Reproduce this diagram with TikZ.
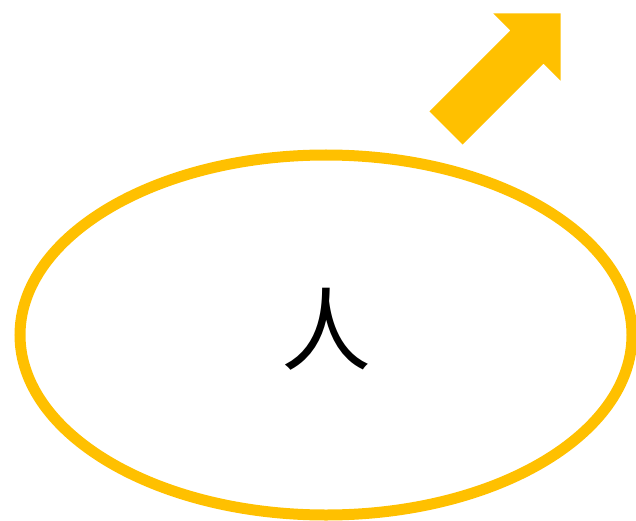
\documentclass[tikz,border=0pt]{standalone}
\usepackage{fontspec}
\newfontfamily\cjk{Noto Sans CJK SC}
\usetikzlibrary{positioning, calc, shapes}
\definecolor{amber}{HTML}{FFC000}
\tikzset{
  person/.style = {draw = amber, line width = 11pt, ellipse, inner sep = 0pt,
    minimum width = 612pt, minimum height = 360pt, text depth = 19pt,
    font = \cjk\fontsize{90}{90}\selectfont},
  bigarrow/.style = {fill = amber, draw = none}
}
\def \shaft {23.5}   % half width of the arrow shaft
\def \head {47.5}    % half width of the arrow head
\def \len {162}      % length, tail to tip

\begin{document}
\begin{tikzpicture}[x = 1pt, y = 1pt]
\useasboundingbox (0,0) rectangle (636,520);

%% Ellipse with the character
\node [person] (ren) at (326,185) {人};

%% Arrow, up and to the right
\coordinate (tail) at (446,392);
\begin{scope}[shift = {(tail)}, rotate = 45]
  \fill [bigarrow] (0,-\shaft) -- (\len-\head,-\shaft) -- (\len-\head,-\head)
    -- (\len,0) -- (\len-\head,\head) -- (\len-\head,\shaft) -- (0,\shaft) -- cycle;
\end{scope}

\end{tikzpicture}
\end{document}
